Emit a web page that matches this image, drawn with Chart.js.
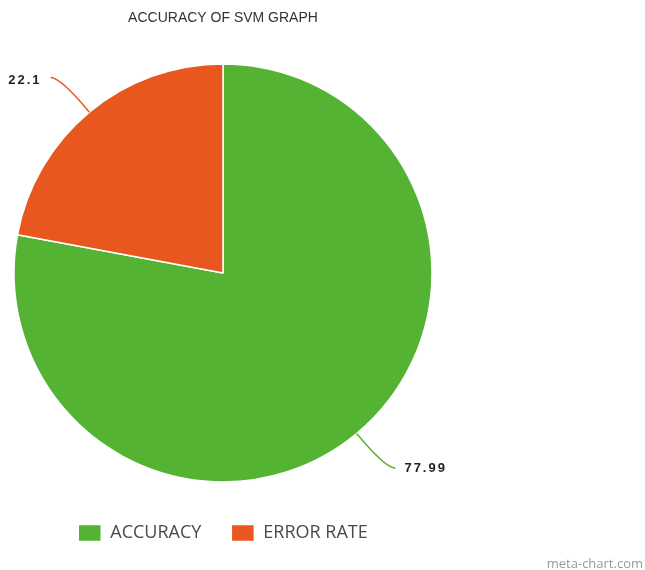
<!DOCTYPE html>
<html>
<head>
<meta charset="utf-8">
<script src="https://cdn.jsdelivr.net/npm/chart.js@4/dist/chart.umd.min.js"></script>
<style>
  html, body { margin: 0; padding: 0; background: #fff; }
  #wrap { position: relative; width: 645px; height: 570px; }
  #credit { position: absolute; right: 2px; bottom: -2px; font: 13px "Open Sans", sans-serif; color: #999; }
</style>
</head>
<body>
<div id="wrap">
  <canvas id="svmChart" width="645" height="570"></canvas>
  <div id="credit">meta-chart.com</div>
</div>
<script>
const labels = ['ACCURACY', 'ERROR RATE'];
const values = [77.99, 22.1];
const colors = ['#55b334', '#e8571e'];

// value labels with curved leader lines, like meta-chart draws them
const leaderLabels = {
  id: 'leaderLabels',
  afterDatasetsDraw(chart) {
    const ctx = chart.ctx;
    const meta = chart.getDatasetMeta(0);
    meta.data.forEach((arc, i) => {
      const mid = (arc.startAngle + arc.endAngle) / 2;
      const dx = Math.cos(mid), dy = Math.sin(mid);
      const r = arc.outerRadius;
      const sx = arc.x + dx * r, sy = arc.y + dy * r;
      const cx = arc.x + dx * (r + 45), cy = arc.y + dy * (r + 45);
      const side = dx < 0 ? -1 : 1;
      const ex = cx + side * 10, ey = cy;
      ctx.save();
      ctx.strokeStyle = colors[i];
      ctx.lineWidth = 1.5;
      ctx.beginPath();
      ctx.moveTo(sx, sy);
      ctx.quadraticCurveTo(cx, cy, ex, ey);
      ctx.stroke();
      ctx.fillStyle = '#222';
      ctx.font = 'bold 13px "Liberation Sans", Arial, sans-serif';
      ctx.letterSpacing = '2px';
      ctx.textBaseline = 'middle';
      ctx.textAlign = side < 0 ? 'right' : 'left';
      ctx.fillText(String(values[i]), ex + side * 9, ey + (side < 0 ? 3 : 0));
      ctx.restore();
    });
  }
};

new Chart(document.getElementById('svmChart'), {
  type: 'pie',
  data: {
    labels: labels,
    datasets: [{
      data: values,
      backgroundColor: colors,
      borderColor: '#fff',
      borderWidth: 1.5,
      radius: 209
    }]
  },
  options: {
    responsive: false,
    animation: false,
    layout: { padding: { left: 0, right: 199, top: 0, bottom: 18 } },
    plugins: {
      title: {
        display: true,
        text: 'ACCURACY OF SVM GRAPH',
        color: '#333',
        font: { family: '"Liberation Sans", Arial, sans-serif', size: 14, weight: 'normal' },
        padding: { top: 10, bottom: 25 }
      },
      legend: {
        position: 'bottom',
        labels: {
          boxWidth: 23,
          boxHeight: 17,
          padding: 30,
          color: '#4a4a4a',
          font: { family: '"Open Sans", sans-serif', size: 18 }
        }
      },
      tooltip: { enabled: false }
    }
  },
  plugins: [leaderLabels]
});
</script>
</body>
</html>
